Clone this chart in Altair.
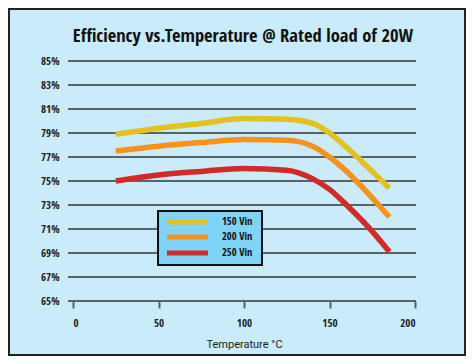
import altair as alt
import pandas as pd

temps = [25, 50, 75, 100, 125, 140, 150, 160, 175, 185]
eff_150 = [78.9, 79.4, 79.8, 80.2, 80.15, 79.8, 79.0, 77.8, 75.8, 74.4]
eff_200 = [77.5, 77.9, 78.2, 78.45, 78.4, 77.9, 77.0, 75.8, 73.6, 72.0]
eff_250 = [75.0, 75.5, 75.8, 76.05, 75.9, 75.2, 74.3, 73.0, 70.8, 69.1]
series = ["150 Vin", "200 Vin", "250 Vin"]
colors = ["#e4c21e", "#f7931d", "#d22a26"]
y_ticks = [65, 67, 69, 71, 73, 75, 77, 79, 81, 83, 85]
x_ticks = [0, 50, 100, 150, 200]
title = "Efficiency vs.Temperature @ Rated load of 20W"

rows = []
for name, vals in zip(series, [eff_150, eff_200, eff_250]):
    for t, v in zip(temps, vals):
        rows.append({"temp": t, "eff": v, "series": name})
df = pd.DataFrame(rows)
grid_df = pd.DataFrame({"eff": y_ticks})
one = pd.DataFrame({"k": [0]})

FONT = "Open Sans Condensed, Roboto Condensed, Liberation Sans Narrow, Roboto, sans-serif"

W, H = 342, 240

xscale = alt.Scale(domain=[0, 200], nice=False)
yscale = alt.Scale(domain=[65, 85], nice=False, zero=False)

yaxis = alt.Axis(
    values=y_ticks, labelExpr="datum.value + '%'", domain=False, ticks=False,
    grid=False, labelPadding=14, labelFont=FONT, labelFontSize=11,
    labelFontWeight="bold", labelColor="#222222", labelOverlap=False,
    labelBound=False, title=None)
xaxis = alt.Axis(
    values=x_ticks, domain=False, ticks=True, tickSize=7, tickWidth=2,
    tickColor="#55646b", grid=False, labelPadding=9, labelFont=FONT,
    labelFontSize=11, labelFontWeight="bold", labelColor="#222222",
    labelOverlap=False,
    title="Temperature °C", titleFont="Roboto, sans-serif", titleFontSize=11,
    titleFontWeight="normal", titleColor="#222222", titlePadding=10)

grid = alt.Chart(grid_df).mark_rule(color="#55646b", strokeWidth=2).encode(
    y=alt.Y("eff:Q", scale=yscale, axis=yaxis),
    x=alt.value(-5), x2=alt.value(343),
)

xaxis_holder = alt.Chart(grid_df).mark_rule(opacity=0).encode(
    x=alt.X("eff:Q", scale=xscale, axis=xaxis),
)

lines = alt.Chart(df).mark_line(strokeWidth=5.5, interpolate="monotone").encode(
    x=alt.X("temp:Q", scale=xscale, axis=xaxis),
    y=alt.Y("eff:Q", scale=yscale, axis=yaxis),
    color=alt.Color("series:N", scale=alt.Scale(domain=series, range=colors), legend=None),
    detail="series:N",
)

frame = alt.Chart(one).mark_rect(fill=None, stroke="#222222", strokeWidth=2).encode(
    x=alt.value(-64), x2=alt.value(392), y=alt.value(-52), y2=alt.value(294),
)

title_mark = alt.Chart(one).mark_text(
    font=FONT, fontSize=18.5, fontWeight="bold", color="#111111",
    align="center", baseline="alphabetic").encode(
    x=alt.value(170), y=alt.value(-19), text=alt.value(title))

legend_box = alt.Chart(one).mark_rect(fill="#7fd3f6", stroke="#111111", strokeWidth=2).encode(
    x=alt.value(85), x2=alt.value(189), y=alt.value(150), y2=alt.value(204))

legend_layers = []
row_y = [161, 176, 192]
for name, col, yy in zip(series, colors, row_y):
    legend_layers.append(
        alt.Chart(one).mark_rule(color=col, strokeWidth=5).encode(
            x=alt.value(94), x2=alt.value(135), y=alt.value(yy)))
    legend_layers.append(
        alt.Chart(one).mark_text(font=FONT, fontSize=10.5, fontWeight="bold",
                                 color="#111111", align="left", baseline="middle").encode(
            x=alt.value(149), y=alt.value(yy), text=alt.value(name)))

chart = alt.layer(grid, xaxis_holder, lines, legend_box, *legend_layers, title_mark, frame).properties(
    width=W, height=H,
    autosize=alt.AutoSizeParams(type="none"),
    padding={"left": 65, "top": 53, "right": 51, "bottom": 55},
    background="#c9ebfa",
).configure_view(stroke=None).configure_axis(labelOverlap=False)

chart.save("out.html", embed_options={"renderer": "svg", "actions": False})
